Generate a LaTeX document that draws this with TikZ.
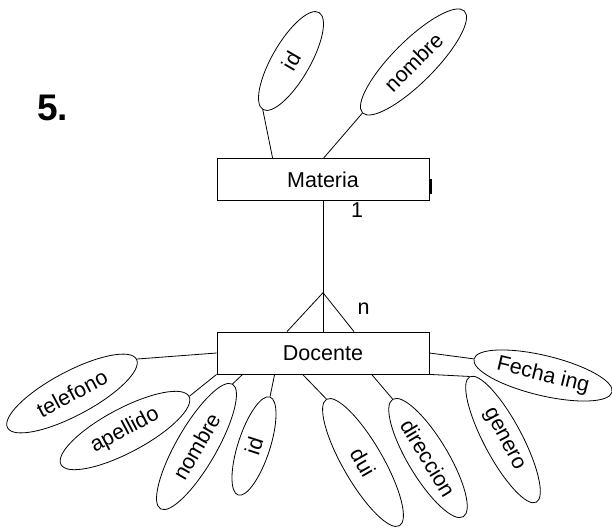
\documentclass[tikz,border=0pt]{standalone}
\usepackage{fontspec}
\setmainfont{Liberation Sans}
\usetikzlibrary{shapes.geometric}

\begin{document}
\begin{tikzpicture}[x=1pt,y=-1pt,line width=0.8pt,
		every node/.style={font=\fontsize{21.5}{25}\selectfont},
		entity/.style={draw,rectangle,minimum width=212,minimum height=42,inner sep=0},
		attr/.style={draw,ellipse,inner sep=0}]
		\useasboundingbox (0,0) rectangle (612,529);
		\node[font=\fontsize{37}{42}\selectfont\bfseries] (num) at (52.5,108) {5.};
		\node[entity] (materia) at (323,179.5) {Materia};
		\node[entity] (docente) [below of=materia,node distance=173.5] {Docente};
		% atributos de Materia
		\node[attr,rotate=60,minimum width=112,minimum height=38] (idM) at (291,61) {id};
		\node[attr,rotate=45,minimum width=144,minimum height=42] (nombreM) at (413.5,62) {nombre};
		\draw (idM.west) edge ([xshift=56]materia.north west);
		\draw (nombreM.west) edge ([xshift=107]materia.north west);
		\draw[line width=1.8] ([xshift=1.5]materia.east) -- ++(0,15);
		% relacion 1:n
		\coordinate (fork) at (323,292.7);
		\node (uno) at (357,210) {1};
		\node (ene) at (363.5,308.5) {n};
		\draw (materia.south) edge (fork);
		\draw (fork) edge (docente.north);
		\draw (fork) edge ([xshift=-36]docente.north);
		\draw (fork) edge ([xshift=31]docente.north);
		% atributos de Docente
		\node[attr,rotate=28,minimum width=146,minimum height=44] (telefono) at (72,393.5) {telefono};
		\node[attr,rotate=28,minimum width=145,minimum height=44] (apellido) at (125,430.5) {apellido};
		\node[attr,rotate=60,minimum width=144,minimum height=40] (nombreD) at (196.5,446.5) {nombre};
		\node[attr,rotate=72,minimum width=103,minimum height=32] (idD) at (254,446) {id};
		\node[attr,rotate=-60,minimum width=146,minimum height=40] (dui) at (363,462.5) {dui};
		\node[attr,rotate=-59,minimum width=137,minimum height=40] (direccion) at (428,458) {direccion};
		\node[attr,rotate=-62,minimum width=142,minimum height=38] (genero) at (503,439.5) {genero};
		\node[attr,rotate=-13.5,minimum width=142,minimum height=40] (fecha) at (543,375.5) {Fecha ing};
		\draw (telefono.east) edge (docente.west);
		\draw (apellido.east) edge (docente.south west);
		\draw (nombreD.east) edge ([xshift=26]docente.south west);
		\draw (idD.east) edge ([xshift=58]docente.south west);
		\draw (dui.west) edge ([xshift=86]docente.south west);
		\draw (direccion.west) edge ([xshift=155]docente.south west);
		\draw (genero.west) edge (docente.south east);
		\draw (fecha.west) edge (docente.east);
	\end{tikzpicture}
\end{document}
